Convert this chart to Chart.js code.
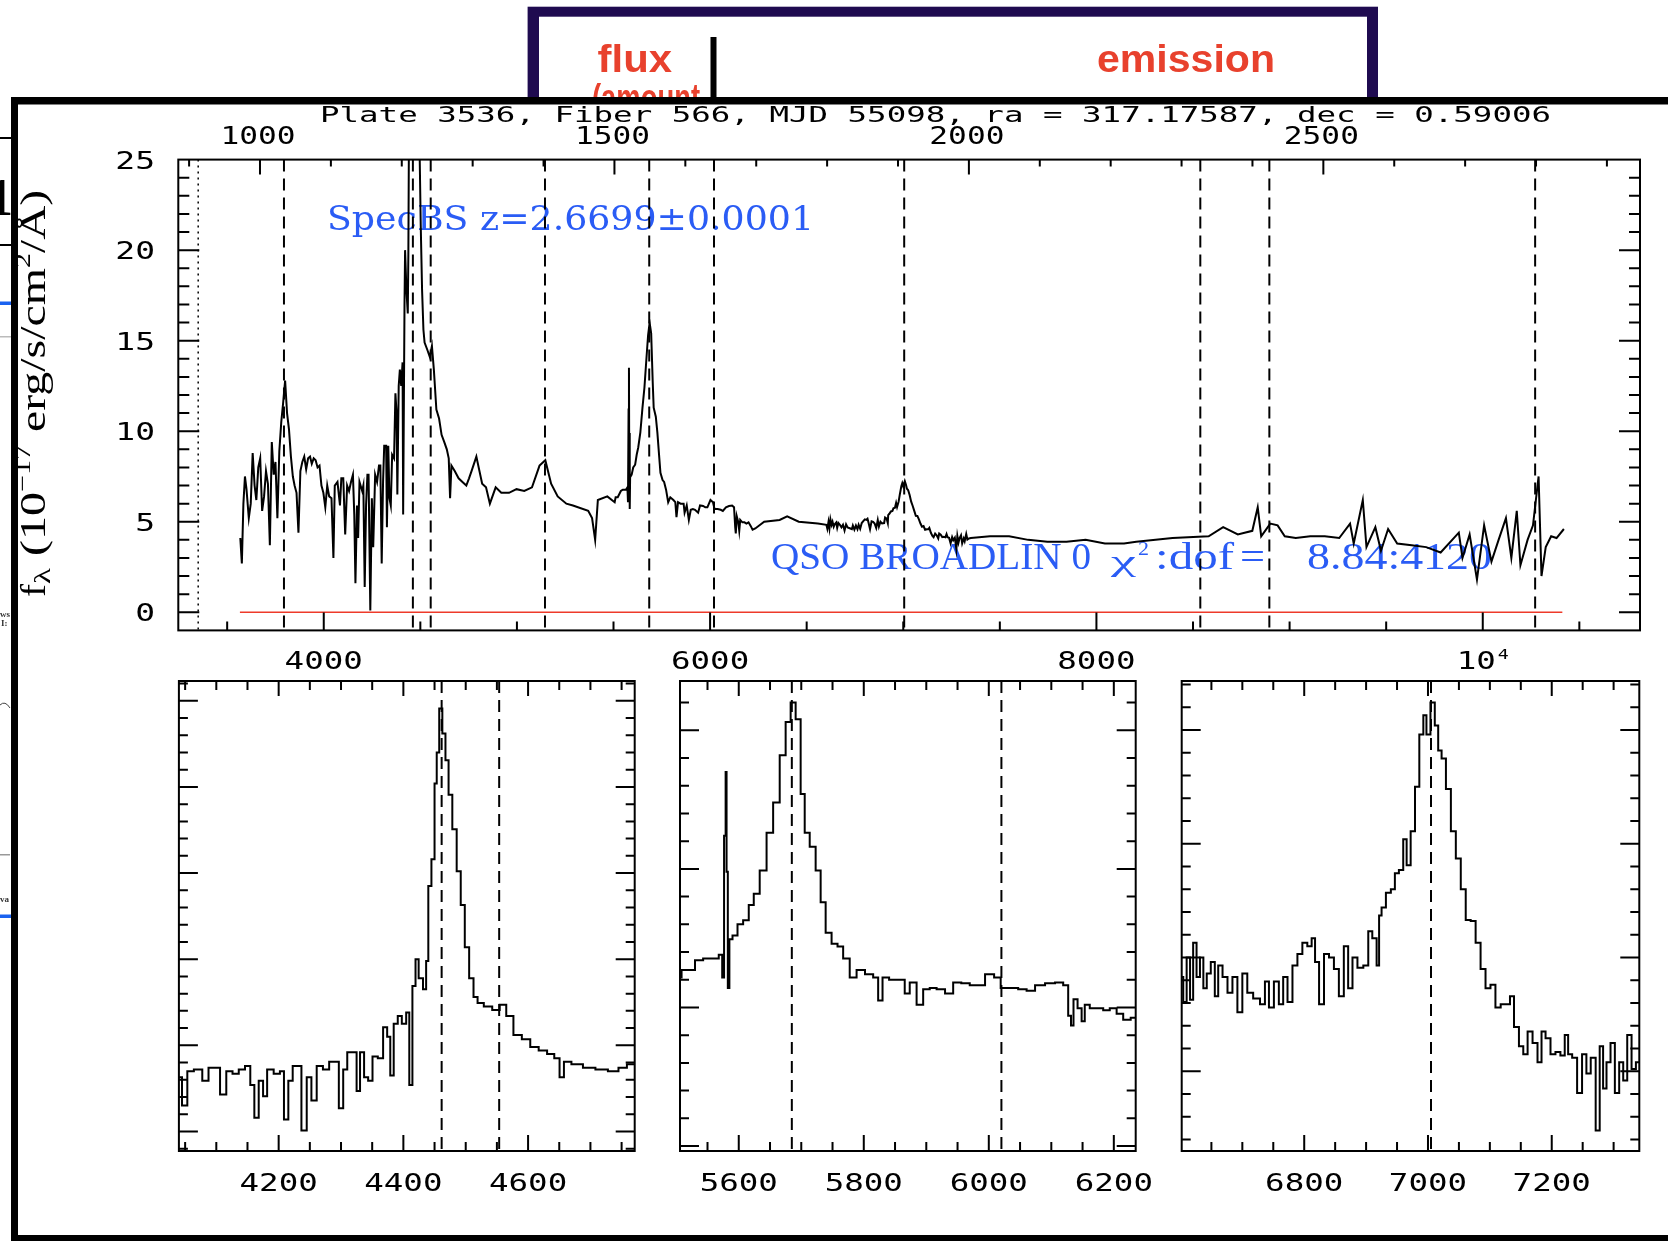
<!DOCTYPE html>
<html><head><meta charset="utf-8">
<script src="https://cdn.jsdelivr.net/npm/chart.js@4.4.1/dist/chart.umd.min.js"></script>
<style>
html,body{margin:0;padding:0;background:#fff;width:1668px;height:1241px;overflow:hidden}
canvas{position:absolute;left:0;top:0;width:1668px;height:1241px}
</style></head><body>
<canvas id="cTop" width="1668" height="1241"></canvas>
<canvas id="cP1" width="1668" height="1241"></canvas>
<canvas id="cP2" width="1668" height="1241"></canvas>
<canvas id="cP3" width="1668" height="1241"></canvas>
<script>
// ---------------- DATA ----------------
const redshift = 2.6699;
const obsWavelength = [
  3568,3576,3584,3592,3600,3612,3622,3632,3642,3651,3661,3671,3681,3691,3701,3711,3721,3731,3741,3750,3760,3770,3780,3790,3800,3810,3820,3830,3840,3849,3859,3869,3879,3889,3899,3909,3919,3929,3938,3948,3958,3968,3978,3988,3998,4008,4018,4028,
  4040,4050,4057,4071,4084,4091,4101,4111,4121,4131,4141,4151,4158,4164,4172,4178,4185,4199,4205,4212,4219,4226,4232,4241,4249,4256,4266,4276,4286,4293,4300,4307,4313,4323,4327,4334,4340,4347,4354,4364,4371,4377,4381,4388,4394,4401,4408,4411,4418,4421,4428,4435,4438,4442,4448,4452,4455,4460,4465,4470,4475,4482,4489,4495,4502,4509,4516,4522,4536,4549,4560,4570,4583,4597,4610,4624,4637,4647,4654,4661,4678,4698,4718,4738,4752,4765,
  4790,4820,4840,4860,4890,4919,4959,4998,5038,5078,5117,5147,5177,5211,5256,5290,5369,5389,5405,5419,5468,
  5506,5511,5522,5538,5548,5564,5572,5575,5578,5580,5581,5584,5586,5594,5602,5612,5620,5628,5639,5650,5660,5671,5679,5687,5695,5703,5708,5719,5727,5735,5743,5754,5762,5772,5783,5794,5810,5820,5826,5834,5847,5863,5868,5879,5890,5900,5911,5922,5938,5948,5964,5975,5986,6002,6015,6023,6039,6055,6066,6082,6098,6114,6124,6130,6133,6138,6146,6151,6156,6167,6178,6188,6199,6210,6220,6234,
  6280,6360,6399,6459,6558,
  6602,6607,6613,6618,6623,6629,6634,6640,6645,6653,6658,6664,6672,6680,6688,6696,6704,6712,6723,6734,6739,6747,6755,6763,6769,6777,6785,6793,6801,6809,6815,6820,6828,6836,6844,6852,6860,6868,6874,6882,6890,6901,6906,6914,6920,6922,6928,6936,6944,6949,6957,6963,6968,6976,6982,6990,6995,7000,7008,7014,7019,7025,7033,7041,7049,7057,7065,7073,7081,7089,7097,7105,7113,7122,7130,7135,7143,7151,7157,7165,7173,7181,7186,7194,7202,7210,7218,7224,7229,7237,7245,7253,7259,7267,7275,7280,7286,7291,7299,7305,7313,7318,7326,7332,7340,
  7350,7449,7548,7647,7746,7845,7944,8044,8143,8206,8394,8581,8656,8732,8807,8835,8853,8900,8938,8975,9032,9107,9182,9257,9313,9332,9379,9398,9444,9473,9510,9557,9632,9707,9782,9876,9895,9932,9970,10007,10045,10082,10120,10148,10176,10195,10232,10260,10289,10304,10326,10354,10382,10420
];
const fluxValues = [
  4.1,2.7,6.0,7.5,6.8,5.2,6.0,8.8,7.0,6.2,8.0,8.5,5.6,6.4,7.8,7.1,3.7,9.4,7.6,8.3,5.2,8.9,10.5,11.6,12.8,11.0,10.1,8.6,7.5,7.0,6.6,4.4,7.8,8.3,8.6,7.9,8.5,8.6,8.2,8.5,8.4,8.0,8.1,7.0,6.6,5.8,7.0,6.4,
  6.3,3.0,7.0,7.2,5.9,7.4,7.4,4.3,7.0,6.7,7.2,7.6,5.4,1.6,5.9,4.1,7.2,6.7,7.0,1.4,5.9,7.6,7.6,0.1,6.3,3.6,7.6,7.2,8.1,8.1,2.7,7.2,9.2,9.2,4.7,9.2,6.3,5.9,8.7,8.5,12.1,11.0,6.5,12.5,13.4,12.5,13.8,5.4,16.9,20.0,17.8,16.5,19.8,28.5,31.6,40.4,44.0,49.1,46.2,43.1,39.1,35.1,30.2,26.3,21.4,17.8,15.6,14.9,14.5,14.1,14.7,13.4,11.2,10.7,9.8,9.4,9.0,8.5,6.3,8.1,7.8,7.4,7.2,7.0,7.4,7.8,
  8.6,7.1,6.9,6.0,6.9,6.6,6.6,6.8,6.7,6.9,8.1,8.4,7.1,6.4,6.0,5.9,5.6,5.2,4.0,6.2,6.4,
  6.08,6.35,6.35,6.7,6.77,6.77,6.9,6.08,11.2,13.5,9.9,5.7,7.46,7.6,8.0,8.15,8.7,9.1,9.94,11.3,12.4,14.1,15.3,16.0,15.4,12.7,11.3,10.8,9.94,8.8,7.7,7.3,7.2,6.77,6.08,6.35,6.2,6.08,5.25,6.08,6.0,6.0,5.5,5.9,5.1,5.66,5.7,5.66,5.5,5.9,5.87,5.8,5.8,6.2,6.08,5.7,5.7,5.66,5.6,5.8,5.87,5.9,5.8,4.7,4.35,5.3,4.97,4.5,5.1,4.97,4.97,4.9,4.97,4.77,4.56,4.63,
  5.0,5.1,5.3,5.0,4.9,
  4.83,4.61,5.0,4.63,5.13,4.83,5.0,4.73,4.86,4.96,4.66,4.93,4.83,4.69,4.83,4.52,4.86,4.69,4.64,4.59,4.79,4.56,4.79,4.59,4.83,4.61,4.93,5.03,5.13,5.10,5.17,4.96,4.59,5.03,5.0,4.9,4.66,5.10,4.73,5.0,4.91,4.93,5.23,5.17,4.93,5.37,5.44,5.57,5.60,5.74,5.77,6.04,5.81,6.11,6.50,6.96,7.13,6.96,7.24,7.04,6.82,6.75,6.48,6.11,5.87,5.60,5.33,5.32,5.13,4.90,4.73,4.76,4.56,4.59,4.59,4.66,4.39,4.22,4.15,4.35,4.25,4.08,4.35,4.29,4.15,4.17,4.14,4.32,4.15,4.12,3.81,4.15,3.98,4.12,3.48,4.22,3.85,4.08,4.25,3.81,4.08,3.92,4.32,4.02,4.08,
  4.1,4.2,4.2,4.0,3.9,3.9,4.0,3.8,3.8,3.9,4.1,4.2,4.7,4.3,4.5,5.8,4.2,4.9,4.8,4.2,4.1,4.2,4.2,4.1,4.9,3.8,6.2,3.6,4.7,3.4,4.6,3.8,3.7,3.6,3.3,4.4,3.0,4.3,1.8,4.8,2.8,4.0,5.2,3.0,5.6,2.6,4.0,4.8,7.5,2.0,3.6,4.2,4.1,4.6
];
const lineRestWavelengths = [1033.82, 1215.67, 1240.81, 1402.0, 1549.06, 1640.42, 1908.73, 2326.44, 2423.83, 2798.75];
const zeroLineWavelengths = [3566, 10412];
const zeroLineFlux = [0, 0];
const markerWavelength = 3350;

const topXRange = [3247, 10814];
const topYRange = [-1, 25];
const topYTickValues = [0, 5, 10, 15, 20, 25];
const topXTickValues = [4000, 6000, 8000, 10000];
const topXTickLabels = ['4000', '6000', '8000', '10^4'];
const restTickValues = [1000, 1500, 2000, 2500];

const zoomXRanges = [[4040, 4771], [5506, 6235], [6602, 7341.5]];
const zoomYRanges = [[-2.27, 52.3], [-0.18, 16.78], [3.30, 7.43]];
const zoomXTickValues = [[4200, 4400, 4600], [5600, 5800, 6000, 6200], [6800, 7000, 7200]];
const zoomYMajorSteps = [10, 5, 1];
const zoomYMinorSteps = [2, 1, 0.2];

const titleText = 'Plate 3536, Fiber 566, MJD 55098, ra = 317.17587, dec = 0.59006';
const zText = 'SpecBS z=2.6699\u00b10.0001';

// ---------------- DRAW HELPERS ----------------
const W = 1668, H = 1241;
const BLUE = '#2a5cf5', RED_SLIDE = '#e8412d';
const MONO = '"DejaVu Sans Mono", monospace';

function drawText(ctx, s, x, y, font, align, sx, color) {
  ctx.save();
  ctx.font = font; ctx.fillStyle = color || '#000'; ctx.textBaseline = 'alphabetic'; ctx.textAlign = 'left';
  const w = ctx.measureText(s).width * sx;
  const left = align === 'center' ? x - w / 2 : (align === 'right' ? x - w : x);
  ctx.translate(left, y); ctx.scale(sx, 1); ctx.fillText(s, 0, 0);
  ctx.restore();
}
function fitText(ctx, s, l, r, y, font, color) {
  ctx.save(); ctx.font = font;
  const w = ctx.measureText(s).width; const sx = (r - l) / w;
  ctx.restore();
  drawText(ctx, s, l, y, font, 'left', sx, color);
  return sx;
}
function fitRot(ctx, s, yBottom, yTop, baseX, font, color) {
  ctx.save(); ctx.font = font; ctx.fillStyle = color || '#000'; ctx.textAlign = 'left'; ctx.textBaseline = 'alphabetic';
  const w = ctx.measureText(s).width; const k = (yBottom - yTop) / w;
  ctx.translate(baseX, yBottom); ctx.rotate(-Math.PI / 2); ctx.scale(k, 1); ctx.fillText(s, 0, 0);
  ctx.restore();
}
function stepTicks(lo, hi, step, majorTest, majLen, minLen) {
  const out = [];
  for (let k = Math.ceil(lo / step - 1e-9); k * step <= hi + 1e-9; k++) {
    const v = +(k * step).toFixed(6);
    out.push({ v, len: majorTest(v) ? majLen : minLen });
  }
  return out;
}
const isMult = (v, m) => Math.abs(v / m - Math.round(v / m)) < 1e-6;

function frameAxesPlugin(spec) {
  return {
    id: 'frameAxes',
    afterDatasetsDraw(chart) {
      const ctx = chart.ctx, a = chart.chartArea, xs = chart.scales.x, ys = chart.scales.y;
      ctx.save();
      ctx.strokeStyle = '#000'; ctx.lineWidth = 2;
      ctx.beginPath();
      const inside = (p, lo, hi) => p > lo + 1.5 && p < hi - 1.5;
      spec.bottomTicks.forEach(t => { const p = xs.getPixelForValue(t.v); if (!inside(p, a.left, a.right)) return; ctx.moveTo(p, a.bottom); ctx.lineTo(p, a.bottom - t.len); });
      spec.topTicks.forEach(t => { const p = xs.getPixelForValue(t.v); if (!inside(p, a.left, a.right)) return; ctx.moveTo(p, a.top); ctx.lineTo(p, a.top + t.len); });
      spec.yTicks.forEach(t => { const p = ys.getPixelForValue(t.v); if (!inside(p, a.top, a.bottom)) return; ctx.moveTo(a.left, p); ctx.lineTo(a.left + t.len, p); ctx.moveTo(a.right, p); ctx.lineTo(a.right - t.len, p); });
      ctx.stroke();
      ctx.strokeRect(a.left, a.top, a.right - a.left, a.bottom - a.top);
      const F = '25px ' + MONO;
      (spec.bottomLabels || []).forEach(l => {
        const p = xs.getPixelForValue(l.v);
        if (l.text.includes('^')) {
          const [b, e] = l.text.split('^');
          drawText(ctx, b, p + 13, spec.bottomLabelY, F, 'right', 1.3);
          drawText(ctx, e, p + 15, spec.bottomLabelY - 10, '14px ' + MONO, 'left', 1.3);
        } else {
          drawText(ctx, l.text, p, spec.bottomLabelY, F, 'center', 1.3);
        }
      });
      (spec.topLabels || []).forEach(l => drawText(ctx, l.text, xs.getPixelForValue(l.v) - 2, spec.topLabelY, '24px ' + MONO, 'center', 1.3));
      (spec.leftLabels || []).forEach(l => drawText(ctx, l.text, spec.leftLabelX, ys.getPixelForValue(l.v) + 9.2, F, 'right', 1.32));
      if (spec.after) spec.after(ctx, chart);
      ctx.restore();
    }
  };
}

const decorPlugin = {
  id: 'pageDecor',
  beforeDraw(chart) {
    const ctx = chart.ctx;
    ctx.save();
    ctx.fillStyle = '#fff'; ctx.fillRect(0, 0, W, H);
    // slide behind the overlay
    ctx.fillStyle = '#1f0b50'; ctx.fillRect(527.6, 6.7, 850.4, 100);
    ctx.fillStyle = '#fff'; ctx.fillRect(539, 16.7, 828, 100);
    const RF = 'bold 38px "Liberation Sans"';
    fitText(ctx, 'flux', 597.6, 672, 71.5, RF, RED_SLIDE);
    fitText(ctx, 'emission', 1097, 1275, 71.5, RF, RED_SLIDE);
    fitText(ctx, '(amount', 592, 700, 111, RF, RED_SLIDE);
    ctx.fillStyle = '#000'; ctx.fillRect(710.5, 37, 6, 70);
    // fragments of the slide on the far left
    ctx.fillStyle = '#000';
    ctx.fillRect(0, 137, 11, 2); ctx.fillRect(0, 244, 11, 2);
    ctx.save(); ctx.beginPath(); ctx.rect(0, 0, 11, H); ctx.clip();
    ctx.font = 'bold 52px "Liberation Serif"'; ctx.textAlign = 'right'; ctx.fillText('1', 13, 215);
    ctx.restore();
    ctx.fillStyle = '#1a62f0'; ctx.fillRect(0, 301.5, 11, 3.5); ctx.fillRect(0, 914.5, 11, 3.5);
    ctx.fillStyle = '#bbb'; ctx.fillRect(0, 336, 11, 1.5); ctx.fillStyle = '#999'; ctx.fillRect(0, 854, 10, 1.5);
    ctx.fillStyle = '#333'; ctx.font = 'bold 9px "Liberation Serif"'; ctx.textAlign = 'left';
    ctx.fillText('ws', 0, 617); ctx.fillText('I:', 1, 626); ctx.fillText('va', 0, 902);
    ctx.strokeStyle = '#444'; ctx.lineWidth = 1; ctx.beginPath(); ctx.moveTo(0, 705); ctx.quadraticCurveTo(5, 700, 10, 708); ctx.stroke();
    // overlay screenshot frame
    ctx.fillStyle = '#000'; ctx.fillRect(11, 97, W - 11, H - 97);
    ctx.fillStyle = '#fff'; ctx.fillRect(18, 104.5, W - 18, 1235 - 104.5);
    // y axis label
    const FL = '36px "Liberation Serif"', FS = '23px "Liberation Serif"';
    fitRot(ctx, 'f', 597, 584, 45, FL);
    fitRot(ctx, '\u03bb', 584, 568, 50, FS);
    fitRot(ctx, '(10', 556, 492, 45, FL);
    fitRot(ctx, '\u221217', 492, 445, 30, FS);
    fitRot(ctx, 'erg/s/cm', 432, 268, 45, FL);
    fitRot(ctx, '2', 268, 253, 30, FS);
    fitRot(ctx, '/\u00c5)', 253, 190, 45, FL);
    ctx.fillStyle = '#000'; ctx.fillRect(11, 97, 7, H - 97);
    ctx.restore();
  },
  beforeDatasetsDraw(chart) {
    const ctx = chart.ctx;
    fitText(ctx, zText, 327, 814, 230, '34px "DejaVu Serif"', BLUE);
    const f = '38px "Liberation Serif"';
    fitText(ctx, 'QSO BROADLIN 0', 771, 1091, 569, f, BLUE);
    fitText(ctx, '\u03c7', 1111, 1136, 571, '30px "Liberation Serif"', BLUE);
    fitText(ctx, '2', 1138, 1149, 555, '19px "Liberation Serif"', BLUE);
    fitText(ctx, ':dof', 1155, 1234, 569, f, BLUE);
    fitText(ctx, '=', 1240, 1265, 569, f, BLUE);
    fitText(ctx, '8.84:4120', 1307, 1492, 569, f, BLUE);
  }
};

function spectrumDataset(width, stepped) {
  return { data: obsWavelength.map((w, i) => ({ x: w, y: fluxValues[i] })), borderColor: '#000', borderWidth: width,
    stepped: stepped, tension: 0, pointRadius: 0, fill: false, clip: 0 };
}
function dashedLineDatasets(yr) {
  return lineRestWavelengths.map(r => ({
    data: [{ x: r * (1 + redshift), y: yr[1] }, { x: r * (1 + redshift), y: yr[0] }],
    borderColor: '#000', borderWidth: 2, borderDash: [12, 7], pointRadius: 0, fill: false, clip: 0
  }));
}
function makeChart(id, area, xr, yr, datasets, plugins) {
  return new Chart(document.getElementById(id), {
    type: 'line',
    data: { datasets },
    options: {
      responsive: false, animation: false, devicePixelRatio: 1, events: [],
      layout: { padding: { left: area.l, top: area.t, right: W - area.r, bottom: H - area.b } },
      scales: {
        x: { type: 'linear', min: xr[0], max: xr[1], display: false },
        y: { type: 'linear', min: yr[0], max: yr[1], display: false }
      },
      plugins: { legend: { display: false }, tooltip: { enabled: false } }
    },
    plugins
  });
}

// ---------------- TOP PANEL ----------------
const topSpec = {
  bottomTicks: stepTicks(3500, 10500, 500, v => topXTickValues.includes(v), 18, 9),
  topTicks: stepTicks(900, 2900, 100, v => isMult(v, 500), 15, 7).map(t => ({ v: t.v * (1 + redshift), len: t.len })),
  yTicks: stepTicks(0, 25, 1, v => isMult(v, 5), 21, 11),
  bottomLabels: topXTickValues.map((v, i) => ({ v, text: topXTickLabels[i] })),
  bottomLabelY: 669,
  topLabels: restTickValues.map(r => ({ v: r * (1 + redshift), text: String(r) })),
  topLabelY: 143.5,
  leftLabels: topYTickValues.map(v => ({ v, text: String(v) })),
  leftLabelX: 155,
  after(ctx) { fitText(ctx, titleText, 320, 1551, 122, '22px ' + MONO, '#000'); }
};
makeChart('cTop', { l: 178.3, r: 1640, t: 159.6, b: 630.4 }, topXRange, topYRange, [
  spectrumDataset(2, false),
  { data: zeroLineWavelengths.map((w, i) => ({ x: w, y: zeroLineFlux[i] })), borderColor: '#ee3a2a', borderWidth: 1.6, pointRadius: 0, fill: false, clip: 0 },
  ...dashedLineDatasets(topYRange),
  { data: [{ x: markerWavelength, y: topYRange[1] }, { x: markerWavelength, y: topYRange[0] }], borderColor: '#000', borderWidth: 1.5, borderDash: [2, 4], pointRadius: 0, fill: false, clip: 0 }
], [decorPlugin, frameAxesPlugin(topSpec)]);

// ---------------- ZOOM PANELS ----------------
const panelAreas = [
  { l: 178.9, r: 634.7, t: 681, b: 1151 },
  { l: 680, r: 1135.7, t: 681, b: 1151 },
  { l: 1181.7, r: 1639.3, t: 681, b: 1151 }
];
['cP1', 'cP2', 'cP3'].forEach((id, i) => {
  const xr = zoomXRanges[i], yr = zoomYRanges[i];
  const spec = {
    bottomTicks: stepTicks(xr[0], xr[1], 50, v => isMult(v, 200), 16, 9),
    topTicks: stepTicks(xr[0], xr[1], 50, v => isMult(v, 200), 15, 9),
    yTicks: stepTicks(yr[0], yr[1], zoomYMinorSteps[i], v => isMult(v, zoomYMajorSteps[i]), 19, 9),
    bottomLabels: zoomXTickValues[i].map(v => ({ v, text: String(v) })),
    bottomLabelY: 1191
  };
  makeChart(id, panelAreas[i], xr, yr, [spectrumDataset(2, 'middle'), ...dashedLineDatasets(yr)], [frameAxesPlugin(spec)]);
});
</script>
</body></html>
